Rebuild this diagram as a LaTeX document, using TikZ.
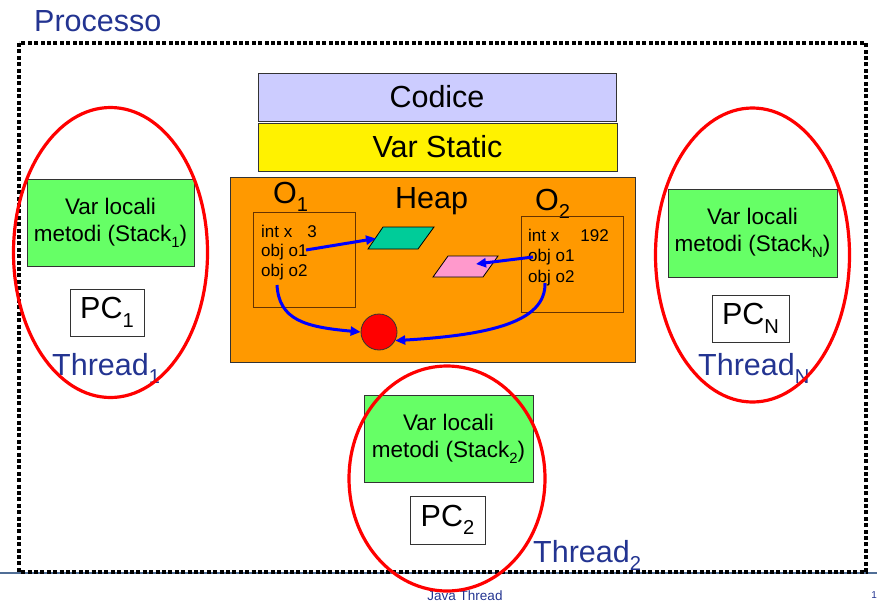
\documentclass[tikz,border=0pt]{standalone}
\usepackage{fontspec}
\setmainfont{Liberation Sans}
\usepackage{graphicx}
\usetikzlibrary{arrows.meta}
\definecolor{tblue}{RGB}{35,52,145}
\definecolor{lav}{RGB}{204,204,255}
\definecolor{stackgreen}{RGB}{102,255,102}
\definecolor{heaporange}{RGB}{255,153,0}
\definecolor{objbrown}{RGB}{102,51,0}
\definecolor{parteal}{RGB}{0,204,153}
\definecolor{parpink}{RGB}{255,153,204}
\definecolor{slateline}{RGB}{80,110,150}
\newcommand{\sbs}[1]{\raisebox{-0.28em}{\scalebox{0.66}{#1}}}
\newcommand{\bigtxt}{\fontsize{30.5}{34}\selectfont}
\newcommand{\midtxt}{\fontsize{22.5}{27}\selectfont}
\newcommand{\smalltxt}{\fontsize{17}{20}\selectfont}
\begin{document}
\begin{tikzpicture}[x=1pt,y=-1pt,
  box/.style={draw=black!80, line width=0.8pt, inner sep=0pt, anchor=center},
  stackbox/.style={box, fill=stackgreen, align=center, font=\midtxt},
  pcbox/.style={box, fill=white, font=\bigtxt},
  objbox/.style={draw=objbrown, line width=0.9pt, inner sep=0pt},
  objtxt/.style={inner sep=0pt, anchor=base west, font=\smalltxt},
  lbl/.style={inner sep=0pt, anchor=base west, font=\bigtxt},
  thr/.style={lbl, text=tblue},
  thell/.style={draw=red, line width=3.2pt},
  ref/.style={draw=blue, line width=3pt, -{Triangle[length=10pt,width=9pt]}},
  dots/.style={line width=4pt, dash pattern=on 4pt off 2.4pt}
]
\useasboundingbox (0,0) rectangle (877,602);

% slide line and footer
\draw[slateline, line width=1.5pt] (0,573) -- (877,573);
\node[inner sep=0pt, anchor=base, text=tblue, font=\fontsize{13.5}{15}\selectfont] (footer) at (465,600) {Java Thread};
\node[inner sep=0pt, anchor=base east, text=tblue, font=\fontsize{10}{12}\selectfont] (pagenum) at (877,598) {1};

% process border
\draw[dots] (19,43) rectangle (866,572);
\node[thr] (processo) at (34,32) {Processo};

% shared areas
\node[box, fill=lav, minimum width=358pt, minimum height=48pt, font=\bigtxt] (codice) at (437,97) {Codice};
\node[box, fill=yellow, minimum width=359pt, minimum height=48pt, font=\bigtxt] (static) at (437.5,147) {Var Static};
\node[box, fill=heaporange, minimum width=405pt, minimum height=185pt] (heap) at (432.5,269.5) {};
\node[lbl] (heaplbl) at (395,208) {Heap};
\node[lbl] (o1lbl) at (273,203) {O\sbs{1}};
\node[lbl] (o2lbl) at (535,210) {O\sbs{2}};

% objects
\node[objbox, minimum width=102pt, minimum height=95pt] (o1) at (304,259.5) {};
\node[objtxt] (o1x) at (261,237) {int x\hspace{15pt}3};
\node[objtxt] (o1a) at (261,256.5) {obj o1};
\node[objtxt] (o1b) at (261,276) {obj o2};
\node[objbox, minimum width=102pt, minimum height=96pt] (o2) at (572,264) {};
\node[objtxt] (o2x) at (528,241) {int x\hspace{21pt}192};
\node[objtxt] (o2a) at (528,261.5) {obj o1};
\node[objtxt] (o2b) at (528,282) {obj o2};

% heap items
\draw[fill=parteal, line width=0.8pt] (368,249) coordinate (gbl) -- (383,227) -- (434,227) -- (418,249) -- cycle;
\coordinate (gleft) at (376,238.5);
\draw[fill=parpink, line width=0.8pt] (433,277) -- (448,256) -- (498,256) -- (483,277) coordinate (pbr) -- cycle;
\coordinate (pin) at (476,264);
\node[circle, draw=black!80, line width=0.8pt, fill=red, minimum size=36pt, inner sep=0pt] (ball) at (379,332) {};

% references
\coordinate (s1) at (306,250);
\coordinate (s2) at (533,257);
\coordinate (s3) at (277,285);
\coordinate (s4) at (545,283);
\draw[ref] (s1) -- (gleft);
\draw[ref] (s2) -- (pin);
\draw[ref] (s3) .. controls (279,320) and (305,327) .. (ball.west);
\draw[ref] (s4) .. controls (546,322) and (490,335) .. (ball.-28);

% thread 1
\node[stackbox, minimum width=167pt, minimum height=87pt] (stack1) at (110.5,222.5) {Var locali\\metodi (Stack\sbs{1})};
\node[pcbox, minimum width=74pt, minimum height=47pt] (pc1) at (107,312.5) {PC\sbs{1}};
\node[thr] (t1) at (52,375) {Thread\sbs{1}};
\draw[thell] (110.5,252.5) ellipse [x radius=97, y radius=145];

% thread N
\node[stackbox, minimum width=169pt, minimum height=88pt] (stackN) at (752.5,233) {Var locali\\metodi (Stack\sbs{N})};
\node[pcbox, minimum width=77pt, minimum height=47pt] (pcN) at (750.5,318.5) {PC\sbs{N}};
\node[thr] (tN) at (698,375) {Thread\sbs{N}};
\draw[thell] (752.5,255) ellipse [x radius=97, y radius=147];

% thread 2
\node[stackbox, minimum width=169pt, minimum height=87pt] (stack2) at (448.5,438.5) {Var locali\\metodi (Stack\sbs{2})};
\node[pcbox, minimum width=75pt, minimum height=48pt] (pc2) at (447.5,520) {PC\sbs{2}};
\node[thr] (t2) at (533,562) {Thread\sbs{2}};
\draw[thell] (447,478.5) ellipse [x radius=98, y radius=112.5];
\end{tikzpicture}
\end{document}
